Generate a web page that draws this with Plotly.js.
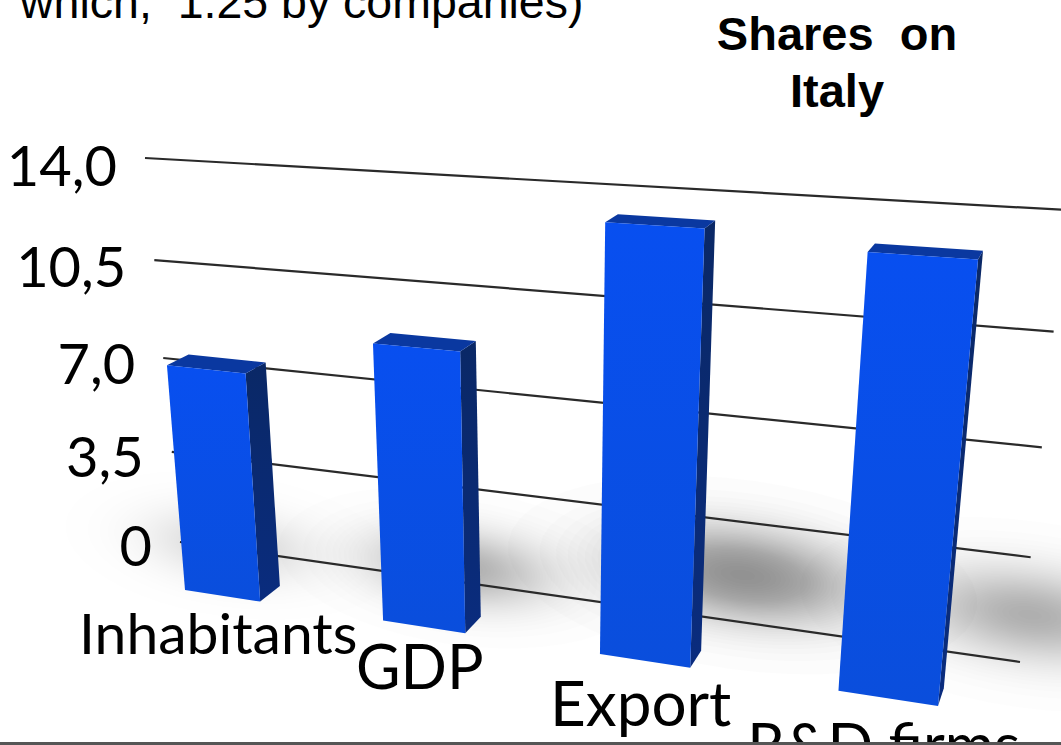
<!DOCTYPE html>
<html>
<head>
<meta charset="utf-8">
<script src="https://cdn.plot.ly/plotly-3.0.1.min.js"></script>
<style>html,body{margin:0;padding:0;background:#fff;overflow:hidden}#chart{width:1061px;height:745px}</style>
</head>
<body>
<div id="chart"></div>
<script>
// Data
const categories = ['Inhabitants', 'GDP', 'Export', 'R&D firms'];
const values = [7.75, 9.1, 13.2, 12.85];
const tickValues = [0, 3.5, 7, 10.5, 14];
const tickLabels = ['0', '3,5', '7,0', '10,5', '14,0'];
const titleLines = ['Shares  on', 'Italy'];
const clippedCaption = 'which,  1.25 by companies)';

// Perspective set-up: corner positions of the two planes in page units
const W = 1061, H = 745, VMAX = 14, USPAN = 3.39, BARW = 0.39;
const wallQuad = [[180,542],[1020,662],[1066,210],[145,158]];
const frontQuad = [[185,590],[938,706],[982,215],[151,167]];
const vanish = [1222,-164], depth = 0.0205;

function homography(q){
  const [x0,y0]=q[0],[x1,y1]=q[1],[x2,y2]=q[2],[x3,y3]=q[3];
  const dx1=x1-x2,dx2=x3-x2,dx3=x0-x1+x2-x3,dy1=y1-y2,dy2=y3-y2,dy3=y0-y1+y2-y3;
  const den=dx1*dy2-dx2*dy1;
  const g=(dx3*dy2-dx2*dy3)/den,h=(dx1*dy3-dx3*dy1)/den;
  const a=x1-x0+g*x1,b=x3-x0+h*x3,d=y1-y0+g*y1,e=y3-y0+h*y3;
  return (s,t)=>{const k=g*s+h*t+1;return [(a*s+b*t+x0)/k,(d*s+e*t+y0)/k];};
}
const wall = homography(wallQuad);
const frontH = homography(frontQuad);
const front = (u,v)=>frontH(u/USPAN,v/VMAX);
const back = p=>[p[0]+depth*(vanish[0]-p[0]),p[1]+depth*(vanish[1]-p[1])];

const traces = [];
function poly(pts,style){
  const c=pts.concat([pts[0]]);
  traces.push(Object.assign({type:'scatter',mode:'lines',x:c.map(p=>p[0]),y:c.map(p=>p[1]),
    fill:'toself',line:{width:0},hoverinfo:'skip'},style));
}

// Soft floor shadows: many faint ellipses whose radii follow a bell profile
values.forEach((v,i)=>{
  const base = front(i+BARW/2,0);
  const cx = base[0]+(base[0]-150)*v*0.015;
  const cy = base[1]-v*6.5;
  const rx = 45+v*8.5, ry = 26+v*2.8, rot = 0.14, layers = 40;
  for(let l=0;l<layers;l++){
    const f = Math.sqrt(-Math.log((l+0.5)/layers))*0.72;
    const pts=[];
    for(let k=0;k<48;k++){
      const a=k/48*2*Math.PI, ex=rx*f*Math.cos(a), ey=ry*f*Math.sin(a);
      pts.push([cx+ex*Math.cos(rot)-ey*Math.sin(rot), cy+ex*Math.sin(rot)+ey*Math.cos(rot)]);
    }
    poly(pts,{fillcolor:'rgba(40,40,40,'+(v*0.00075).toFixed(4)+')'});
  }
});

// Gridlines on the back wall
tickValues.forEach(v=>{
  const a=wall(0,v/VMAX), b=wall(1,v/VMAX);
  traces.push({type:'scatter',mode:'lines',x:[a[0],b[0]],y:[a[1],b[1]],
    line:{color:'#2a2a2a',width:2.2},hoverinfo:'skip'});
});

// Bars
values.forEach((v,i)=>{
  const fbl=front(i,0),fbr=front(i+BARW,0),ftr=front(i+BARW,v),ftl=front(i,v);
  poly([ftr,fbr,back(fbr),back(ftr)],{fillcolor:'#0b2a75',
    fillgradient:{type:'vertical',colorscale:[[0,'#0a2c7e'],[1,'#0a2866']]}});
  poly([ftl,ftr,back(ftr),back(ftl)],{fillcolor:'#0a38a0'});
  poly([fbl,fbr,ftr,ftl],{fillcolor:'#0b4ce8',
    fillgradient:{type:'vertical',colorscale:[[0,'#0a4edc'],[1,'#084ff0']]}});
});

// Text
const tickPos = tickValues.map(v=>{const p=wall(0,v/VMAX);return [p[0]-28,p[1]+10+v*0.3];});
traces.push({type:'scatter',mode:'text',x:tickPos.map(p=>p[0]),y:tickPos.map(p=>p[1]),text:tickLabels,
  textposition:'middle left',textfont:{family:'Lato',size:56,color:'#000'},hoverinfo:'skip'});
const catSizes = [57,61,62,60];
const catPos = categories.map((c,i)=>{const p=front(i+BARW/2,0);return [p[0]-4,p[1]+44+3*i];});
traces.push({type:'scatter',mode:'text',x:catPos.map(p=>p[0]),y:catPos.map(p=>p[1]),text:categories,
  textposition:'middle center',textfont:{family:'Lato',size:catSizes,color:'#000'},hoverinfo:'skip'});
traces.push({type:'scatter',mode:'text',x:[837,837],y:[38,95],text:titleLines,
  textposition:'middle center',textfont:{family:'Liberation Sans',size:47,color:'#000',weight:700},hoverinfo:'skip'});
traces.push({type:'scatter',mode:'text',x:[20],y:[6],text:[clippedCaption],
  textposition:'middle right',textfont:{family:'Liberation Sans',size:46.5,color:'#000'},hoverinfo:'skip'});

const layout = {
  width:W,height:H,margin:{l:0,r:0,t:0,b:0},showlegend:false,
  paper_bgcolor:'#fff',plot_bgcolor:'#fff',
  xaxis:{range:[0,W],visible:false,fixedrange:true},
  yaxis:{range:[H,0],visible:false,fixedrange:true},
  shapes:[{type:'rect',xref:'x',yref:'y',x0:0,x1:W,y0:742,y1:745,fillcolor:'#555',line:{width:0},layer:'above'}]
};
Plotly.newPlot('chart',traces,layout,{displayModeBar:false,staticPlot:true});
</script>
</body>
</html>
